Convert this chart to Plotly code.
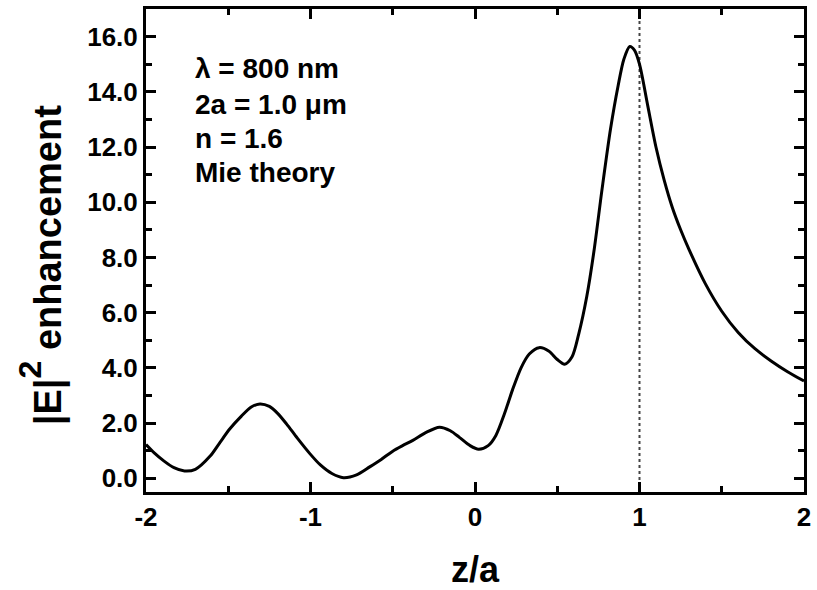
import plotly.graph_objects as go

# ---- data ----
z_over_a = [-2.00, -1.95, -1.89, -1.83, -1.766, -1.70, -1.61, -1.55, -1.49, -1.42,
            -1.36, -1.307, -1.25, -1.20, -1.146, -1.08, -1.004, -0.94, -0.87, -0.80,
            -0.72, -0.64, -0.57, -0.50, -0.44, -0.378, -0.30, -0.216, -0.15, -0.095,
            -0.03, 0.022, 0.08, 0.127, 0.18, 0.228, 0.28, 0.33, 0.39, 0.45,
            0.50, 0.545, 0.59, 0.63, 0.68, 0.723, 0.773, 0.824, 0.87, 0.905,
            0.941, 0.97, 1.00, 1.05, 1.10, 1.15, 1.20, 1.25, 1.30, 1.40,
            1.50, 1.60, 1.70, 1.80, 1.90, 2.00]
enhancement = [1.22, 0.92, 0.62, 0.38, 0.26, 0.32, 0.80, 1.30, 1.79, 2.25,
               2.58, 2.69, 2.60, 2.35, 1.97, 1.45, 0.89, 0.48, 0.17, 0.02,
               0.12, 0.41, 0.68, 0.98, 1.18, 1.37, 1.65, 1.85, 1.72, 1.48,
               1.18, 1.05, 1.18, 1.55, 2.35, 3.20, 4.00, 4.50, 4.73, 4.60,
               4.30, 4.13, 4.40, 5.21, 6.60, 8.22, 10.50, 12.66, 14.22, 15.18,
               15.64, 15.50, 15.00, 13.50, 12.00, 10.80, 9.80, 9.00, 8.30, 7.05,
               6.05, 5.28, 4.70, 4.25, 3.86, 3.52]

sphere_edge = 1.0  # z/a position of the dotted reference line

x_tick_vals = [-2, -1, 0, 1, 2]
x_tick_text = ["-2", "-1", "0", "1", "2"]
y_tick_vals = [0, 2, 4, 6, 8, 10, 12, 14, 16]
y_tick_text = ["0.0", "2.0", "4.0", "6.0", "8.0", "10.0", "12.0", "14.0", "16.0"]

info_lines = ["λ = 800 nm", "2a = 1.0 μm", "n = 1.6", "Mie theory"]
info_y = [14.85, 13.55, 12.3, 11.08]

FONT = "Liberation Sans, Arial, sans-serif"

fig = go.Figure()
fig.add_trace(go.Scatter(
    x=z_over_a, y=enhancement, mode="lines",
    line=dict(color="black", width=3, shape="spline", smoothing=0.8),
    showlegend=False, hoverinfo="skip"))

fig.add_vline(x=sphere_edge, line=dict(color="#444444", width=2, dash="dot"), layer="below")

axis_common = dict(
    showline=True, linewidth=3, linecolor="black", mirror="allticks",
    ticks="inside", ticklen=10, tickwidth=3, tickcolor="black",
    showgrid=False, zeroline=False,
    tickfont=dict(family=FONT, size=26, color="black", weight="bold"),
)

fig.update_xaxes(range=[-2, 2], tickvals=x_tick_vals, ticktext=x_tick_text,
                 minor=dict(ticks="inside", ticklen=6, tickwidth=3, tickcolor="black", dtick=0.5, tick0=0),
                 **axis_common)
fig.update_yaxes(range=[-0.5, 17], tickvals=y_tick_vals, ticktext=y_tick_text,
                 minor=dict(ticks="inside", ticklen=6, tickwidth=3, tickcolor="black", dtick=1, tick0=1),
                 **axis_common)

for txt, yy in zip(info_lines, info_y):
    fig.add_annotation(x=-1.713, y=yy, xref="x", yref="y", text=txt, showarrow=False,
                       xanchor="left", yanchor="middle",
                       font=dict(family=FONT, size=28, color="black", weight="bold"))

fig.add_annotation(x=0.5, y=-0.16, xref="paper", yref="paper", text="z/a", showarrow=False,
                   xanchor="center", yanchor="middle",
                   font=dict(family=FONT, size=36, color="black", weight="bold"))
fig.add_annotation(x=-0.16, y=0.469, xref="paper", yref="paper",
                   text="|E|<span style=\"font-size:46px\"><sup>2</sup></span> enhancement",
                   showarrow=False, textangle=-90,
                   xanchor="center", yanchor="middle",
                   font=dict(family=FONT, size=38, color="black", weight="bold"))

fig.update_layout(width=817, height=590, margin=dict(l=146, r=11, t=6, b=98),
                  paper_bgcolor="white", plot_bgcolor="white")

fig.write_html("out.html")
